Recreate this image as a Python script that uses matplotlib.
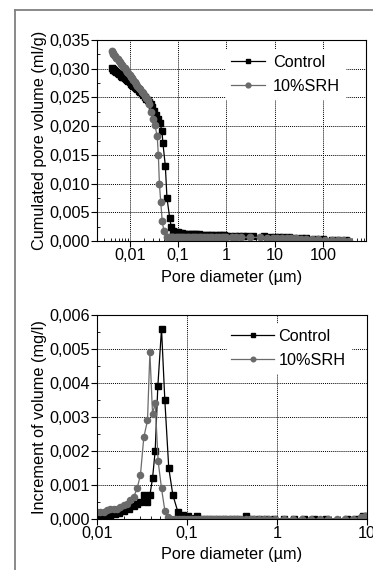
import numpy as np
import matplotlib
matplotlib.use('Agg')
import matplotlib.pyplot as plt
from matplotlib.ticker import FixedLocator, FixedFormatter, LogLocator, NullFormatter
from matplotlib.lines import Line2D

plt.rcParams['font.family'] = ['Liberation Sans', 'DejaVu Sans']
plt.rcParams['font.size'] = 11.7

# ---- cumulated pore volume (ml/g) ----
cum_d_ctrl = [0.0042, 0.0044, 0.0046, 0.0048, 0.0050, 0.0053, 0.0056, 0.0059, 0.0062, 0.0066,
              0.0070, 0.0074, 0.0078, 0.0083, 0.0088, 0.0093, 0.0099, 0.0105, 0.0112, 0.0119,
              0.0127, 0.0135, 0.0144, 0.0154, 0.0165, 0.0177, 0.0190, 0.0204, 0.0220, 0.0237,
              0.0255, 0.0275, 0.0295, 0.032, 0.035, 0.038, 0.042, 0.0463, 0.0485, 0.0544,
              0.0588, 0.067, 0.072, 0.080, 0.090, 0.10, 0.11, 0.12, 0.13, 0.15,
              0.17, 0.19, 0.21, 0.24, 0.27, 0.30, 0.35, 0.40, 0.45, 0.50,
              0.60, 0.70, 0.80, 0.90, 1.0, 1.2, 1.5, 1.8, 2.2, 2.6,
              3.5, 6.0, 8.0, 10, 12, 15, 20, 25, 35, 45,
              70, 100, 150, 200, 300]
cum_v_ctrl = [0.0301, 0.0300, 0.0298, 0.0297, 0.0296, 0.0294, 0.0293, 0.0291, 0.0290, 0.0288,
              0.0286, 0.0285, 0.0283, 0.0282, 0.0280, 0.0278, 0.0276, 0.0274, 0.0272, 0.0270,
              0.0268, 0.0266, 0.0264, 0.0262, 0.0259, 0.0257, 0.0254, 0.0251, 0.0248, 0.0245,
              0.0242, 0.0238, 0.0233, 0.0226, 0.0219, 0.0212, 0.0205, 0.0192, 0.0170, 0.0131,
              0.0075, 0.0040, 0.0025, 0.0018, 0.0016, 0.0015, 0.0014, 0.00135, 0.0013, 0.00128,
              0.00125, 0.00122, 0.0012, 0.00118, 0.00115, 0.00112, 0.0011, 0.00108, 0.00106, 0.00104,
              0.00102, 0.001, 0.00098, 0.00096, 0.00095, 0.00093, 0.00092, 0.0009, 0.00088, 0.00087,
              0.00085, 0.0008, 0.00078, 0.00075, 0.00072, 0.0007, 0.00065, 0.0006, 0.00055, 0.0005,
              0.0004, 0.0003, 0.0002, 0.00015, 0.0001]

cum_d_srh = [0.0042, 0.0044, 0.0046, 0.0048, 0.0050, 0.0053, 0.0056, 0.0059, 0.0062, 0.0066,
             0.0070, 0.0074, 0.0078, 0.0083, 0.0088, 0.0093, 0.0099, 0.0105, 0.0112, 0.0119,
             0.0127, 0.0135, 0.0144, 0.0154, 0.0165, 0.0177, 0.0190, 0.0204, 0.0220, 0.0237,
             0.0255, 0.027, 0.0297, 0.0331, 0.037, 0.039, 0.041, 0.0437, 0.047, 0.051,
             0.060, 0.065, 0.070, 0.075, 0.080, 0.090, 0.10, 0.11, 0.12, 0.13,
             0.15, 0.17, 0.19, 0.21, 0.24, 0.27, 0.30, 0.35, 0.40, 0.45,
             0.50, 0.60, 0.70, 0.80, 0.90, 1.0, 1.3, 1.6, 2.0, 3.0,
             5.0, 7.0, 9.0, 11, 14, 18, 22, 28, 35, 45,
             60, 80, 110, 150, 200, 260, 350]
cum_v_srh = [0.0330, 0.0328, 0.0326, 0.0324, 0.0322, 0.0319, 0.0317, 0.0314, 0.0312, 0.0309,
             0.0306, 0.0303, 0.0301, 0.0298, 0.0295, 0.0292, 0.0289, 0.0286, 0.0283, 0.0280,
             0.0277, 0.0274, 0.0270, 0.0267, 0.0264, 0.0260, 0.0257, 0.0253, 0.0249, 0.0245,
             0.0239, 0.0225, 0.0212, 0.0202, 0.0182, 0.0150, 0.0100, 0.0068, 0.0034, 0.0017,
             0.00075, 0.00072, 0.0007, 0.0007, 0.0007, 0.0007, 0.0007, 0.0007, 0.0007, 0.0007,
             0.0007, 0.0007, 0.0007, 0.0007, 0.0007, 0.0007, 0.0007, 0.0007, 0.0007, 0.0007,
             0.0007, 0.0007, 0.0007, 0.0007, 0.0007, 0.0007, 0.00068, 0.00067, 0.00066, 0.00064,
             0.00062, 0.0006, 0.0006, 0.00058, 0.00055, 0.0005, 0.00048, 0.00045, 0.0004, 0.00036,
             0.0003, 0.00028, 0.00022, 0.0002, 0.00015, 0.0001, 0.00003]

# ---- increment of volume (mg/l) ----
inc_d_ctrl = [0.0100, 0.0109, 0.0119, 0.0129, 0.0141, 0.0160, 0.0174, 0.0198, 0.0225, 0.0256,
              0.0279, 0.0304, 0.0331, 0.0364, 0.0387, 0.0414, 0.0443, 0.0474, 0.0521, 0.0567,
              0.0627, 0.0697, 0.0794, 0.0909, 0.1025, 0.130, 0.154, 0.180, 0.217, 0.258,
              0.307, 0.363, 0.45, 0.53, 0.63, 0.75, 0.93, 1.2, 1.55, 2.0,
              2.6, 3.5, 6.0, 7.5, 9.0, 10.0]
inc_v_ctrl = [0.00005, 0.00005, 0.00006, 0.00007, 0.0001, 0.00015, 0.00018, 0.00023, 0.0003, 0.00037,
              0.00044, 0.0005, 0.0007, 0.0005, 0.0007, 0.0012, 0.0020, 0.0039, 0.0056, 0.0035,
              0.0015, 0.0007, 0.0002, 0.00012, 0.0001, 0.0001, 0.0, 0.0, 0.0, 0.0,
              0.0, 0.0, 0.0001, 0.0, 0.0, 0.0, 0.0, 0.0, 0.0, 0.0,
              0.0, 0.0, 0.0, 0.0, 0.0001, 0.0001]

inc_d_srh = [0.0100, 0.0109, 0.0119, 0.0129, 0.0141, 0.0153, 0.0167, 0.0182, 0.0198, 0.0216,
             0.0235, 0.0256, 0.0279, 0.0304, 0.0331, 0.0364, 0.0387, 0.0414, 0.0443, 0.0478,
             0.0521, 0.0567, 0.0618, 0.066, 0.071, 0.076, 0.081, 0.087, 0.093, 0.10,
             0.107, 0.115, 0.124, 0.133, 0.143, 0.154, 0.166, 0.18, 0.195, 0.21,
             0.23, 0.25, 0.27, 0.30, 0.33, 0.36, 0.40, 0.45, 0.50, 0.56,
             0.63, 0.72, 0.82, 0.95, 1.2, 1.5, 1.9, 2.4, 3.0, 3.7,
             4.6, 5.7, 7.0, 8.5, 9.5]
inc_v_srh = [0.0002, 0.0002, 0.0002, 0.00027, 0.0003, 0.0003, 0.0003, 0.00035, 0.0004, 0.00045,
             0.00055, 0.00065, 0.0009, 0.0013, 0.0024, 0.0029, 0.0049, 0.0031, 0.0034, 0.0017,
             0.0009, 0.00025, 0.00005, 0.0, 0.0, 0.0, 0.0, 0.0, 0.0, 0.0,
             0.0, 0.0, 0.0, 0.0, 0.0, 0.0, 0.0, 0.0, 0.0, 0.0,
             0.0, 0.0, 0.0, 0.0, 0.0, 0.0, 0.0, 0.0, 0.0, 0.0,
             0.0, 0.0, 0.0, 0.0, 0.0, 0.0, 0.0, 0.0, 0.0, 0.0,
             0.0, 0.0, 0.0, 0.00005, 0.00008]

top_yticks = [0.0, 0.005, 0.010, 0.015, 0.020, 0.025, 0.030, 0.035]
top_ylabels = ['0,000', '0,005', '0,010', '0,015', '0,020', '0,025', '0,030', '0,035']
top_xticks = [0.01, 0.1, 1, 10, 100]
top_xlabels = ['0,01', '0,1', '1', '10', '100']
bot_yticks = [0.0, 0.001, 0.002, 0.003, 0.004, 0.005, 0.006]
bot_ylabels = ['0,000', '0,001', '0,002', '0,003', '0,004', '0,005', '0,006']
bot_xticks = [0.01, 0.1, 1, 10]
bot_xlabels = ['0,01', '0,1', '1', '10']

ctrl_color = 'black'
srh_color = '#6a6a6a'

fig = plt.figure(figsize=(3.73, 5.70), dpi=100)

# outer frame (gray) like in the source page
fig.add_artist(Line2D([15/373, 15/373], [0, 1 - 10/570], transform=fig.transFigure,
                      color='#808080', lw=1.3))
fig.add_artist(Line2D([15/373, 1], [1 - 10/570, 1 - 10/570], transform=fig.transFigure,
                      color='#808080', lw=1.3))

ax1 = fig.add_axes([97/373, 1 - 241/570, 269/373, 201/570])
ax2 = fig.add_axes([97/373, 1 - 519/570, 270/373, 204/570])

ax1.plot(cum_d_ctrl, cum_v_ctrl, color=ctrl_color, marker='s', ms=4.2, lw=0.9, label='Control')
ax1.plot(cum_d_srh, cum_v_srh, color=srh_color, marker='o', ms=4.6, lw=0.9, label='10%SRH')
ax2.plot(inc_d_ctrl, inc_v_ctrl, color=ctrl_color, marker='s', ms=4.2, lw=0.9, label='Control')
ax2.plot(inc_d_srh, inc_v_srh, color=srh_color, marker='o', ms=4.4, lw=0.9, label='10%SRH')

for ax, xt, xl, yt, yl, ylab, xlim, ylim in [
        (ax1, top_xticks, top_xlabels, top_yticks, top_ylabels,
         'Cumulated pore volume (ml/g)', (0.0021, 770), (0, 0.035)),
        (ax2, bot_xticks, bot_xlabels, bot_yticks, bot_ylabels,
         'Increment of volume (mg/l)', (0.01, 10), (0, 0.006))]:
    ax.set_xscale('log')
    ax.set_xlim(*xlim)
    ax.set_ylim(*ylim)
    ax.xaxis.set_major_locator(FixedLocator(xt))
    ax.xaxis.set_major_formatter(FixedFormatter(xl))
    ax.xaxis.set_minor_locator(LogLocator(base=10, subs=np.arange(2, 10), numticks=20))
    ax.xaxis.set_minor_formatter(NullFormatter())
    ax.yaxis.set_major_locator(FixedLocator(yt))
    ax.yaxis.set_major_formatter(FixedFormatter(yl))
    ax.yaxis.set_minor_locator(FixedLocator([v + (yt[1] - yt[0]) / 2 for v in yt[:-1]]))
    ax.tick_params(which='major', direction='out', length=4, width=0.8, labelsize=11.7, pad=1)
    ax.tick_params(which='minor', direction='in', length=2.5, width=0.6)
    ax.grid(True, which='major', color='black', linestyle=(0, (1, 1)), linewidth=0.7)
    ax.set_axisbelow(True)
    for s in ax.spines.values():
        s.set_linewidth(0.8)
    ax.set_ylabel(ylab, fontsize=11.7, labelpad=2)

ax1.set_xlabel('Pore diameter (\u00b5m)', fontsize=11.7, labelpad=5)
ax2.set_xlabel('Pore diameter (\u00b5m)', fontsize=11.7, labelpad=4)

ax1.legend(loc='upper left', bbox_to_anchor=(0.48, 0.95), borderaxespad=0, borderpad=0.3,
           handlelength=2.1, handletextpad=0.5, labelspacing=0.55, fontsize=11.7,
           markerscale=0.75, frameon=True, fancybox=False, framealpha=1, edgecolor='white')
ax2.legend(loc='upper left', bbox_to_anchor=(0.48, 0.955), borderaxespad=0, borderpad=0.3,
           handlelength=2.6, handletextpad=0.3, labelspacing=0.55, fontsize=11.7,
           markerscale=0.75, frameon=True, fancybox=False, framealpha=1, edgecolor='white')

fig.savefig('out.png', dpi=100)
